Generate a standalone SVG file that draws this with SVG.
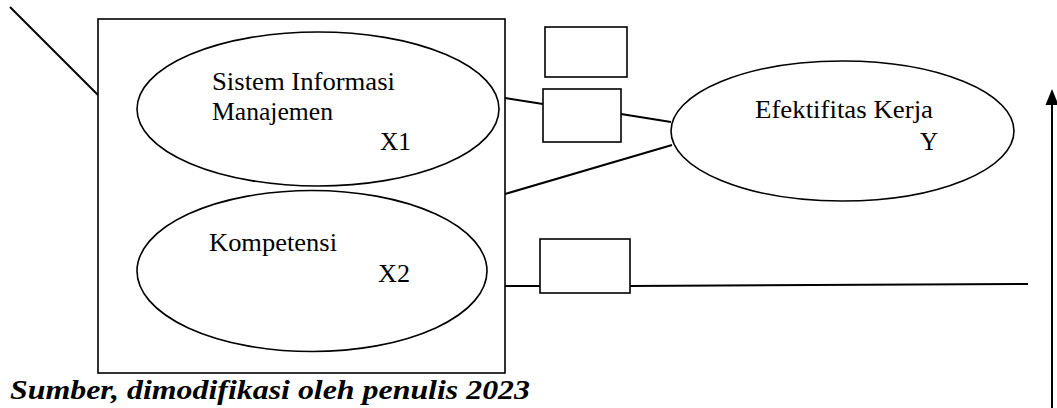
<svg xmlns="http://www.w3.org/2000/svg" width="1057" height="408" viewBox="0 0 1057 408">
<style>
.s{fill:none;stroke:#000;stroke-width:1.6}
.n{fill:#fff;stroke:#000;stroke-width:1.6}
.c{fill:none;stroke:#000;stroke-width:2}
.t{font-family:'Liberation Serif','Times New Roman',serif;font-size:25px;fill:#000}
.cap{font-family:'Liberation Serif','Times New Roman',serif;font-size:28px;font-weight:bold;font-style:italic;fill:#000}
</style>
<rect width="1057" height="408" fill="#fff"/>
<g id="connectors">
<line class="c" x1="10" y1="7" x2="98" y2="95"/>
<line class="c" x1="505" y1="98" x2="543" y2="104"/>
<line class="c" x1="621" y1="114" x2="671" y2="122"/>
<line class="c" x1="505" y1="194" x2="672" y2="145"/>
<line class="c" x1="505" y1="286" x2="540" y2="286"/>
<line class="c" x1="630" y1="286" x2="1028" y2="284"/>
<line class="c" x1="1052" y1="408" x2="1052" y2="103"/>
<polygon points="1052,89 1045.5,105 1058.5,105" fill="#000"/>
</g>
<g id="frame">
<rect class="s" x="98" y="19" width="407" height="354"/>
</g>
<g id="x1">
<ellipse class="n" cx="318" cy="109" rx="181" ry="77"/>
<text class="t" x="212" y="90" textLength="183" lengthAdjust="spacingAndGlyphs">Sistem Informasi</text>
<text class="t" x="212" y="120" textLength="121" lengthAdjust="spacingAndGlyphs">Manajemen</text>
<text class="t" x="380" y="150" textLength="31" lengthAdjust="spacingAndGlyphs">X1</text>
</g>
<g id="x2">
<ellipse class="n" cx="312" cy="271" rx="175" ry="80.5"/>
<text class="t" x="209" y="251" textLength="128" lengthAdjust="spacingAndGlyphs">Kompetensi</text>
<text class="t" x="378" y="282" textLength="32" lengthAdjust="spacingAndGlyphs">X2</text>
</g>
<g id="y">
<ellipse class="n" cx="842.5" cy="131" rx="171.5" ry="70"/>
<text class="t" x="755" y="118" textLength="178" lengthAdjust="spacingAndGlyphs">Efektifitas Kerja</text>
<text class="t" x="920" y="150">Y</text>
</g>
<g id="box-a"><rect class="n" x="545" y="27" width="82" height="50"/></g>
<g id="box-b"><rect class="n" x="543" y="89" width="78" height="53"/></g>
<g id="box-c"><rect class="n" x="540" y="239" width="90" height="54"/></g>
<g id="caption">
<text class="cap" x="10" y="399" textLength="520" lengthAdjust="spacingAndGlyphs">Sumber, dimodifikasi oleh penulis 2023</text>
</g>
</svg>
